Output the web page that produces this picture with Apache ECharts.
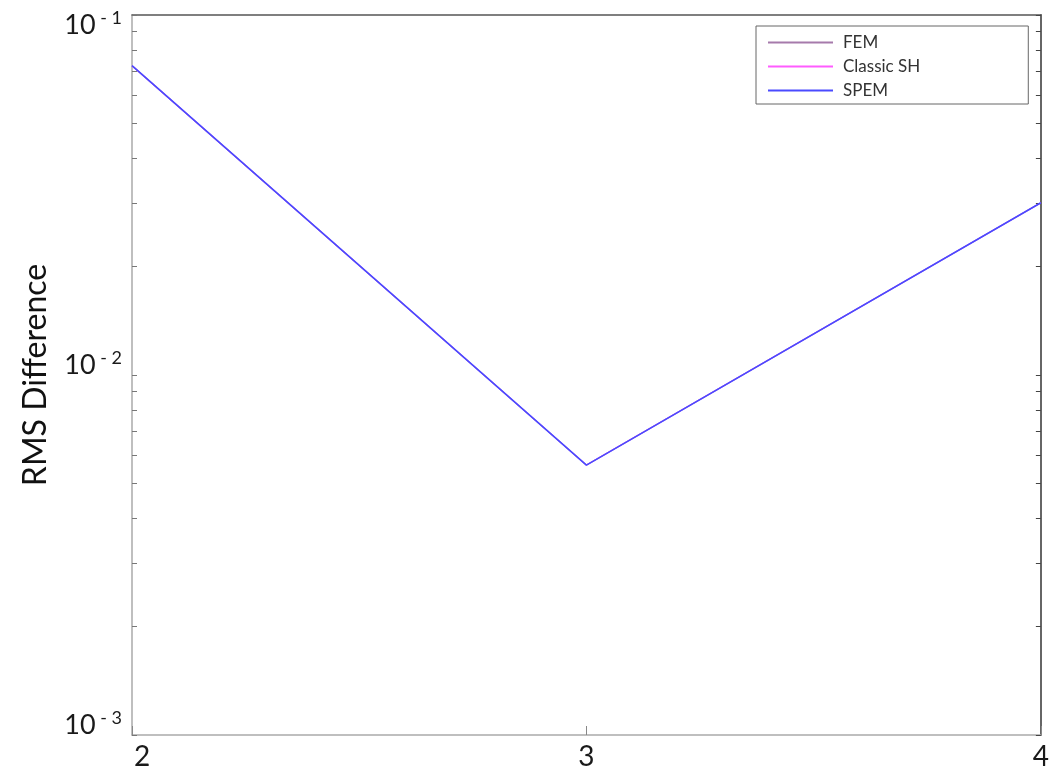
<!DOCTYPE html>
<html><head><meta charset="utf-8">
<script src="https://cdn.jsdelivr.net/npm/echarts@6/dist/echarts.min.js"></script>
<style>html,body{margin:0;padding:0;background:#fff}#c{width:1052px;height:773px}</style>
</head><body><div id="c"></div>
<script>
const xValues = [2, 3, 4];
const femValues = [0.0723, 0.00562, 0.0301];
const classicShValues = [0.0723, 0.00562, 0.0301];
const spemValues = [0.0723, 0.00562, 0.0301];
const seriesNames = ['FEM', 'Classic SH', 'SPEM'];
const lowerDecadeLabels = [0.001, 0.01];
const topDecadeLabels = [0.1];
const majorTicks = [0.001, 0.01, 0.1];
const minorTicks = [];
[0.001, 0.01].forEach(d => { for (let m = 2; m <= 9; m++) minorTicks.push(+(d * m).toPrecision(3)); });
const allTicks = majorTicks.concat(minorTicks);

const FONT = 'Lato, "Open Sans", sans-serif';
const chart = echarts.init(document.getElementById('c'));
const pair = (arr) => xValues.map((x, i) => [x, arr[i]]);
const expLabel = (v) => {
  const e = Math.round(Math.log10(v));
  return '{a|10}{b| - ' + Math.abs(e) + '}';
};
const rich = {
  a: {fontSize: 27, lineHeight: 20, fontFamily: FONT, color: '#1a1a1a'},
  b: {fontSize: 18, lineHeight: 20, fontFamily: FONT, color: '#1a1a1a', padding: [0, 0, 13, 0]}
};
const baseY = {type: 'log', min: 0.001, max: 0.1, logBase: 10, splitLine: {show: false}};
chart.setOption({
  animation: false,
  grid: {left: 132, top: 15, right: 8, bottom: 38, show: false},
  legend: {
    left: 756, top: 26, orient: 'vertical',
    data: seriesNames,
    icon: 'rect',
    itemWidth: 65, itemHeight: 2, itemGap: 7,
    padding: [8, 108, 5, 12],
    borderColor: '#666', borderWidth: 1,
    textStyle: {fontSize: 17, fontFamily: FONT, color: '#333', padding: [0, 0, 0, 5]}
  },
  xAxis: [{
    type: 'value', min: 2, max: 4, interval: 1, position: 'bottom',
    axisLine: {show: true, lineStyle: {color: '#aaa', width: 1.5}},
    axisTick: {show: true, inside: true, length: 9, lineStyle: {color: '#888'}},
    axisLabel: {
      fontSize: 28, fontFamily: FONT, color: '#1a1a1a', margin: 8,
      formatter: (v) => v === 2 ? '{s|' + v + '}' : String(v),
      rich: {s: {fontSize: 28, fontFamily: FONT, color: '#1a1a1a', padding: [0, 0, 0, 20]}}
    },
    splitLine: {show: false}
  }, {
    type: 'value', min: 2, max: 4, interval: 1, position: 'top',
    axisLine: {show: true, lineStyle: {color: '#555', width: 1.5}},
    axisTick: {show: false},
    axisLabel: {show: false}, splitLine: {show: false}
  }],
  yAxis: [Object.assign({}, baseY, {
    position: 'left',
    name: 'RMS Difference', nameLocation: 'middle', nameRotate: 90, nameGap: 80,
    nameTextStyle: {fontSize: 32, fontFamily: FONT, color: '#111'},
    axisLine: {show: true, lineStyle: {color: '#aaa', width: 1.5}},
    axisTick: {show: true, inside: true, length: 5, customValues: allTicks, lineStyle: {color: '#777'}},
    axisLabel: {customValues: lowerDecadeLabels, formatter: expLabel, rich: rich, margin: 10, verticalAlign: 'bottom'}
  }), Object.assign({}, baseY, {
    position: 'right',
    axisLine: {show: true, lineStyle: {color: '#666', width: 2}},
    axisTick: {show: true, inside: true, length: 5, customValues: allTicks, lineStyle: {color: '#444'}},
    axisLabel: {show: false}
  }), Object.assign({}, baseY, {
    position: 'left',
    axisLine: {show: false}, axisTick: {show: false},
    axisLabel: {customValues: topDecadeLabels, formatter: expLabel, rich: rich, margin: 10, verticalAlign: 'top'}
  })],
  series: [
    {name: seriesNames[0], type: 'line', data: pair(femValues), symbol: 'none', color: '#a67aab', lineStyle: {width: 1.2}},
    {name: seriesNames[1], type: 'line', data: pair(classicShValues), symbol: 'none', color: '#ff5cff', lineStyle: {width: 1.2}},
    {name: seriesNames[2], type: 'line', data: pair(spemValues), symbol: 'none', color: '#4a4aff', lineStyle: {width: 1.6}}
  ]
});
</script></body></html>
